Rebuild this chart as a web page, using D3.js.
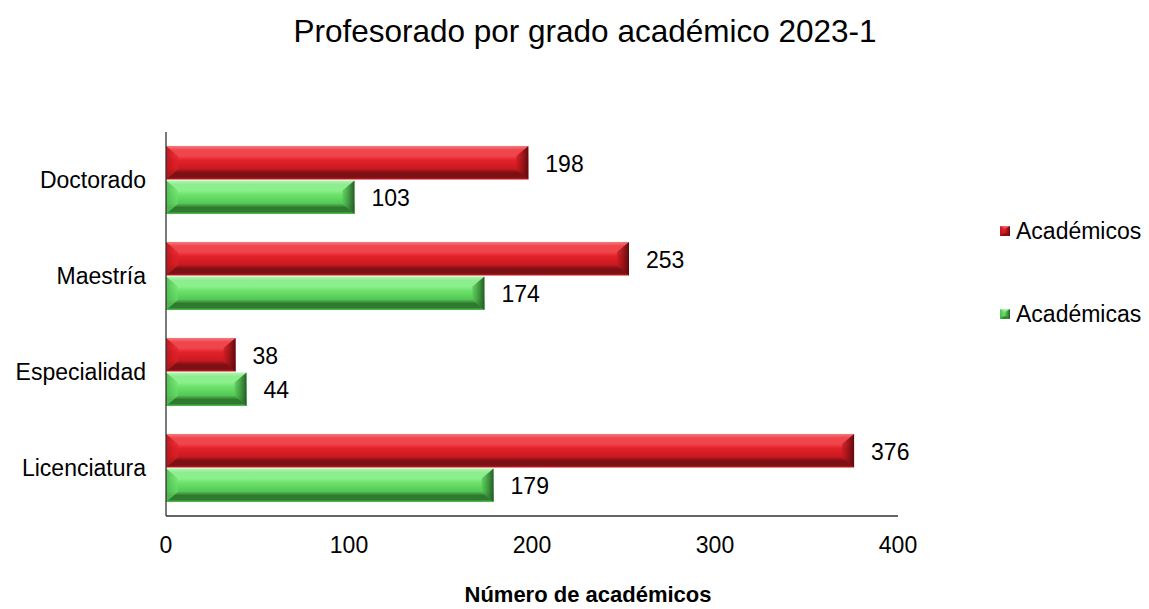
<!DOCTYPE html>
<html>
<head>
<meta charset="utf-8">
<script src="https://d3js.org/d3.v7.min.js"></script>
<style>
  body { margin: 0; background: #fff; }
  text { font-family: "Liberation Sans", Arial, sans-serif; fill: #000; }
</style>
</head>
<body>
<svg id="chart" width="1149" height="609"></svg>
<script>
  // data
  var categories = ["Doctorado", "Maestría", "Especialidad", "Licenciatura"];
  var seriesNames = ["Académicos", "Académicas"];
  var academicos = [198, 253, 38, 376];
  var academicas = [103, 174, 44, 179];
  var xTicks = [0, 100, 200, 300, 400];

  var svg = d3.select("#chart");

  var margin = { top: 132, left: 166, right: 251, bottom: 93 };
  var width = 1149 - margin.left - margin.right,
      height = 609 - margin.top - margin.bottom;

  var x = d3.scaleLinear().domain([0, 400]).range([margin.left, margin.left + width]);
  var y = d3.scaleBand().domain(categories)
      .range([margin.top, margin.top + height])
      .paddingInner(0.28).paddingOuter(0.14);
  var ySub = d3.scaleBand().domain(seriesNames).range([0, y.bandwidth()]);

  // gradients for the bevelled bars
  var defs = svg.append("defs");
  var palette = {
    "Académicos": { top: "#f47a7e", light: "#f0454b", mid: "#e3222a", low: "#c81a20", dark: "#7c1014", leftc: "#b8141a", rightc: "#5e0a0c" },
    "Académicas": { top: "#b4f5b4", light: "#8cee8c", mid: "#6ce26c", low: "#55c855", dark: "#2f7a2f", leftc: "#4cb84c", rightc: "#245a24" }
  };
  seriesNames.forEach(function(s, i) {
    var p = palette[s];
    var g = defs.append("linearGradient").attr("id", "vg" + i)
        .attr("x1", 0).attr("x2", 0).attr("y1", 0).attr("y2", 1);
    [[0, p.top], [0.12, p.light], [0.3, p.light], [0.42, p.mid], [0.68, p.low],
     [0.8, p.dark], [0.93, p.dark], [1, p.low]].forEach(function(st) {
      g.append("stop").attr("offset", st[0]).attr("stop-color", st[1]);
    });
    var gl = defs.append("linearGradient").attr("id", "lg" + i)
        .attr("x1", 0).attr("x2", 1).attr("y1", 0).attr("y2", 0);
    gl.append("stop").attr("offset", 0).attr("stop-color", p.leftc).attr("stop-opacity", 0.9);
    gl.append("stop").attr("offset", 1).attr("stop-color", p.mid).attr("stop-opacity", 0.6);
    var gr = defs.append("linearGradient").attr("id", "rg" + i)
        .attr("x1", 0).attr("x2", 1).attr("y1", 0).attr("y2", 0);
    gr.append("stop").attr("offset", 0).attr("stop-color", p.low).attr("stop-opacity", 0.7);
    gr.append("stop").attr("offset", 1).attr("stop-color", p.rightc);
  });

  // title
  svg.append("text")
      .attr("x", 585).attr("y", 42)
      .attr("text-anchor", "middle")
      .style("font-size", "31.5px")
      .text("Profesorado por grado académico 2023-1");

  var rows = [];
  categories.forEach(function(c, i) {
    rows.push({ cat: c, s: 0, name: seriesNames[0], v: academicos[i] });
    rows.push({ cat: c, s: 1, name: seriesNames[1], v: academicas[i] });
  });

  function bevel(sel, x0, y0, w, h, i) {
    var b = Math.min(12, w / 2), bv = Math.min(10, h / 2 - 2);
    sel.append("rect").attr("x", x0).attr("y", y0).attr("width", w).attr("height", h)
        .attr("fill", "url(#vg" + i + ")");
    sel.append("polygon")
        .attr("points", [[x0, y0], [x0 + b, y0 + bv], [x0 + b, y0 + h - bv], [x0, y0 + h]].join(" "))
        .attr("fill", "url(#lg" + i + ")");
    sel.append("polygon")
        .attr("points", [[x0 + w, y0], [x0 + w - b, y0 + bv], [x0 + w - b, y0 + h - bv], [x0 + w, y0 + h]].join(" "))
        .attr("fill", "url(#rg" + i + ")");
  }

  var bars = svg.append("g");
  rows.forEach(function(d) {
    var y0 = y(d.cat) + ySub(d.name);
    var g = bars.append("g");
    bevel(g, x(0), y0 + 0.5, x(d.v) - x(0), ySub.bandwidth() - 1, d.s);
    svg.append("text")
        .attr("x", x(d.v) + 17)
        .attr("y", y0 + ySub.bandwidth() / 2 + 9)
        .style("font-size", "23px")
        .text(d.v);
  });

  // axes lines
  svg.append("line")
      .attr("x1", x(0)).attr("x2", x(0))
      .attr("y1", margin.top).attr("y2", margin.top + height)
      .attr("stroke", "#333").attr("stroke-width", 1.3);
  svg.append("line")
      .attr("x1", x(0)).attr("x2", x(400))
      .attr("y1", margin.top + height).attr("y2", margin.top + height)
      .attr("stroke", "#333").attr("stroke-width", 1.3);

  // category labels
  svg.selectAll(".cat").data(categories).enter().append("text")
      .attr("class", "cat")
      .attr("x", 146)
      .attr("y", function(d) { return y(d) + y.bandwidth() / 2 + 8; })
      .attr("text-anchor", "end")
      .style("font-size", "23px")
      .text(function(d) { return d; });

  // x tick labels
  svg.selectAll(".tick").data(xTicks).enter().append("text")
      .attr("class", "tick")
      .attr("x", function(d) { return x(d); })
      .attr("y", 553)
      .attr("text-anchor", "middle")
      .style("font-size", "23px")
      .text(function(d) { return d; });

  svg.append("text")
      .attr("x", 588).attr("y", 602)
      .attr("text-anchor", "middle")
      .style("font-size", "22px")
      .style("font-weight", "bold")
      .text("Número de académicos");

  // legend
  var legY = [231, 314];
  seriesNames.forEach(function(s, i) {
    var lg = svg.append("g");
    bevel(lg, 1000, legY[i] - 5, 10, 10, i);
    lg.append("text")
        .attr("x", 1016).attr("y", legY[i] + 8)
        .style("font-size", "23px")
        .text(s);
  });
</script>
</body>
</html>
